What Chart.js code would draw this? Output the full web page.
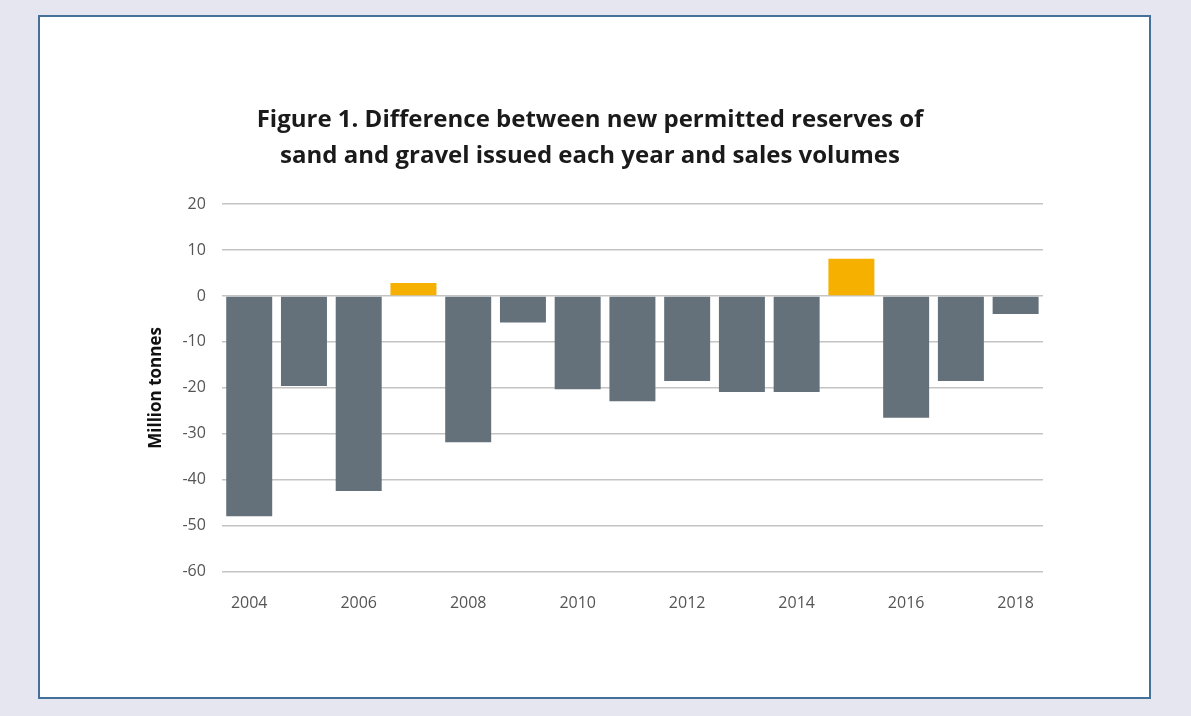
<!DOCTYPE html>
<html>
<head>
<meta charset="utf-8">
<script src="https://cdn.jsdelivr.net/npm/chart.js@4"></script>
<style>
  html, body { margin: 0; padding: 0; }
  body { width: 1191px; height: 716px; background: #e6e6f0; position: relative; overflow: hidden; }
  #frame {
    position: absolute; left: 38px; top: 15px; width: 1109px; height: 680px;
    background: #fff; border: 2px solid #45709a;
  }
  #chart { display: block; }
</style>
</head>
<body>
<div id="frame"><canvas id="chart" width="1109" height="680"></canvas></div>
<script>
// years on the x axis
const years = ["2004", "2005", "2006", "2007", "2008", "2009", "2010", "2011",
               "2012", "2013", "2014", "2015", "2016", "2017", "2018"];

// new permitted reserves minus sales, million tonnes
const difference = [-47.9, -19.6, -42.4, 2.8, -31.8, -5.8, -20.3, -22.9,
                    -18.5, -20.9, -20.9, 8.1, -26.5, -18.5, -3.9];

const titleLines = [
    "Figure 1. Difference between new permitted reserves of",
    "sand and gravel issued each year and sales volumes"
];

const GREY = "#65717a";
const YELLOW = "#f6b000";

new Chart(document.getElementById("chart").getContext("2d"), {
    type: "bar",
    data: {
        labels: years,
        datasets: [{
            data: difference,
            backgroundColor: difference.map(v => v > 0 ? YELLOW : GREY),
            borderWidth: 0,
            barPercentage: 0.84,
            categoryPercentage: 1.0
        }]
    },
    options: {
        responsive: false,
        animation: false,
        layout: { padding: { left: 97, right: 106, top: 85, bottom: 62 } },
        plugins: {
            legend: { display: false },
            tooltip: { enabled: false },
            title: {
                display: true,
                text: titleLines,
                color: "#1a1a1a",
                font: { family: "'Liberation Sans Narrow', 'Arial Narrow', 'Open Sans', sans-serif", size: 24, weight: "bold", lineHeight: 1.5 },
                padding: { top: 0, bottom: 30 }
            }
        },
        scales: {
            x: {
                grid: { display: false, drawTicks: false },
                border: { display: false },
                ticks: {
                    autoSkip: false,
                    maxRotation: 0,
                    padding: 22,
                    color: "#555",
                    font: { family: "'Open Sans', sans-serif", size: 16 },
                    callback: (val, i) => i % 2 === 0 ? years[i] : ""
                }
            },
            y: {
                min: -60,
                max: 20,
                ticks: {
                    stepSize: 10,
                    padding: 16,
                    color: "#555",
                    font: { family: "'Open Sans', sans-serif", size: 16 }
                },
                grid: { color: "#c4c4c4", lineWidth: 1.5, drawTicks: false },
                border: { display: false },
                title: {
                    display: true,
                    text: "Million tonnes",
                    color: "#111",
                    font: { family: "'Open Sans', sans-serif", size: 17, weight: "bold" },
                    padding: { top: 9, bottom: 0 }
                }
            }
        }
    }
});
</script>
</body>
</html>
